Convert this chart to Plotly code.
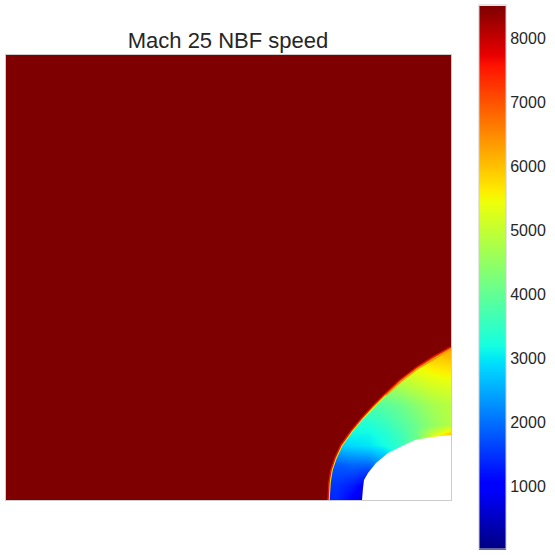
import plotly.graph_objects as go

# Everything is in plot units: 0..445 across and up from the lower-left corner.
title = "Mach 25 NBF speed"
z_min, z_max = 10, 8520
tick_values = [1000, 2000, 3000, 4000, 5000, 6000, 7000, 8000]

# Speed field
grid_x = [314, 330, 346, 362, 378, 394, 410, 426, 445]
grid_y = [0, 15, 35, 55, 64, 70, 75, 95, 115, 135, 155]
speed = [
    [1300, 1400, 1000,  300,  400,  500, 3000, 5000, 6500],
    [1500, 1500, 1300,  900, 1500, 3000, 4000, 5000, 6500],
    [1800, 1800, 1900, 1900, 2300, 3200, 4300, 5000, 6500],
    [2800, 2800, 2900, 3000, 3200, 3500, 4100, 5000, 6300],
    [3200, 3100, 3100, 3100, 3300, 3600, 4100, 5200, 6300],
    [3300, 3300, 3200, 3200, 3400, 3700, 4100, 4800, 5500],
    [3500, 3400, 3300, 3300, 3500, 3800, 4100, 4500, 4900],
    [4000, 3900, 3800, 3800, 3900, 4100, 4400, 4700, 4900],
    [4500, 4400, 4400, 4500, 4600, 4800, 5000, 5200, 5300],
    [5000, 5000, 5000, 5200, 5300, 5400, 5500, 5700, 5800],
    [5500, 5500, 5500, 5800, 5900, 6000, 6100, 6200, 6400],
]

# Shock front and body outlines
shock_x = [322, 323, 325, 329, 335, 345, 355, 366, 379, 394, 411, 427, 445]
shock_y = [0, 18, 30, 42, 55, 69, 81, 93, 106, 120, 133, 143, 153]
body_x = [356, 357, 358, 362, 370, 382, 394, 409, 426, 445]
body_y = [0, 12, 20, 27, 37, 47, 53, 60, 63, 65]

freestream_x = shock_x + [445, 0, 0, 322]
freestream_y = shock_y + [445, 445, 0, 0]
freestream_speed = "#7f0000"

jet = [
    [0.0, "rgb(0,0,127)"], [0.11, "rgb(0,0,255)"], [0.125, "rgb(0,0,255)"],
    [0.34, "rgb(0,219,255)"], [0.35, "rgb(0,230,247)"], [0.375, "rgb(20,255,226)"],
    [0.64, "rgb(238,255,8)"], [0.65, "rgb(247,246,0)"], [0.66, "rgb(255,236,0)"],
    [0.89, "rgb(255,19,0)"], [0.91, "rgb(232,0,0)"], [1.0, "rgb(127,0,0)"],
]

fig = go.Figure()
fig.add_trace(go.Heatmap(
    x=grid_x, y=grid_y, z=speed, zmin=z_min, zmax=z_max, colorscale=jet, zsmooth="best",
    hoverinfo="skip",
    colorbar=dict(
        tickvals=tick_values, ticks="outside", ticklen=1, tickcolor="rgba(0,0,0,0)",
        tickfont=dict(family="Liberation Sans", size=16, color="#262626"),
        lenmode="pixels", len=544, thickness=27, thicknessmode="pixels",
        x=473 / 445, xanchor="left", y=0.5, yanchor="middle", xpad=0, ypad=0,
        outlinecolor="#cccccc", outlinewidth=1, borderwidth=0,
    ),
))
fig.add_trace(go.Scatter(
    x=shock_x, y=shock_y, mode="lines", hoverinfo="skip", showlegend=False,
    line=dict(color="#f4f000", width=3.5),
))
fig.add_trace(go.Scatter(
    x=shock_x[8:], y=shock_y[8:], mode="lines", hoverinfo="skip", showlegend=False,
    line=dict(color="#ff9a00", width=5),
))
fig.add_trace(go.Scatter(
    x=freestream_x, y=freestream_y, mode="none", fill="toself", fillcolor=freestream_speed,
    hoverinfo="skip", showlegend=False,
))
fig.add_trace(go.Scatter(
    x=shock_x, y=shock_y, mode="lines", hoverinfo="skip", showlegend=False,
    line=dict(color="#e81500", width=1.5),
))
fig.add_trace(go.Scatter(
    x=body_x + [445, 356], y=body_y + [0, 0], mode="none", fill="toself", fillcolor="white",
    hoverinfo="skip", showlegend=False,
))

axis = dict(
    range=[0, 445], showgrid=False, zeroline=False, showticklabels=False, ticks="",
    showline=True, mirror=True, linecolor="#cccccc", linewidth=1,
)
fig.update_layout(
    width=555, height=555, autosize=False,
    margin=dict(l=6, r=104, t=55, b=55),
    paper_bgcolor="white", plot_bgcolor="white",
    xaxis=axis, yaxis=axis,
    title=dict(
        text=title, x=228 / 555, xanchor="center", y=1 - 40 / 555, yanchor="middle",
        font=dict(family="Liberation Sans", size=22, color="#262626"),
    ),
)
fig.write_html("out.html", post_script="document.body.style.margin='0';",
               config={"displayModeBar": False})
